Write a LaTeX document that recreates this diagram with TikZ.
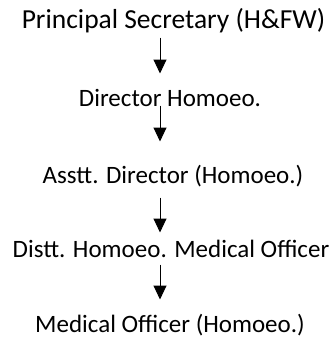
\documentclass[tikz,border=0pt]{standalone}
\usepackage{fontspec}
\setmainfont{Carlito}
\usetikzlibrary{arrows.meta}

\begin{document}
\begin{tikzpicture}[>={Triangle[length=14pt, width=13pt]}, x=1pt, y=-1pt, line width=1pt,
    capbac/.style={anchor=base, inner sep=0pt, text height=16pt, text depth=6pt,
        font=\fontsize{25}{30}\selectfont}]
    \useasboundingbox (0,0) rectangle (334,341);
    % Các cấp
    \node[capbac, text depth=6.5pt, font=\fontsize{27.5}{32}\selectfont] (ps) at (173.5,28) {Principal Secretary (H\&FW)};
    \node[capbac] (dir) at (170,106) {Director Homoeo.};
    \node[capbac] (ad) at (173,183) {Asstt. Director (Homoeo.)};
    \node[capbac] (dhmo) at (171,257) {Distt. Homoeo. Medical Officer};
    \node[capbac] (mo) at (170,332) {Medical Officer (Homoeo.)};
    
    % Mũi tên
    \coordinate (ax) at (160,0);
    \draw[->, shorten <=2.5pt, shorten >=16pt] (ps.south -| ax) -- (dir.north -| ax);
    \draw[->, shorten <=-7pt, shorten >=25pt] (dir.south -| ax) -- (ad.north -| ax);
    \draw[->, shorten <=8pt, shorten >=8pt] (ad.south -| ax) -- (dhmo.north -| ax);
    \draw[->, shorten <=1pt, shorten >=16pt] (dhmo.south -| ax) -- (mo.north -| ax);
\end{tikzpicture}
\end{document}
